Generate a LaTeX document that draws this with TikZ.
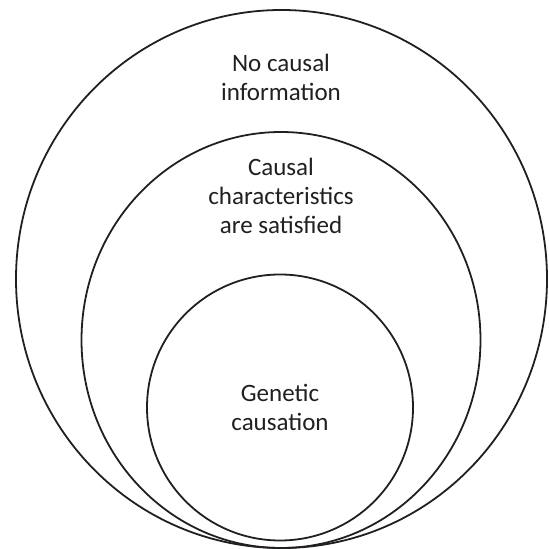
\documentclass[tikz,border=0pt]{standalone}
\usepackage{fontspec}
\setmainfont{Carlito}
\usetikzlibrary{shapes.geometric}
\definecolor{ink}{HTML}{231F20}
\begin{document}
\begin{tikzpicture}[x=1pt,y=1pt,
  ring/.style={ellipse, draw=ink, line width=1.8pt, inner sep=0pt},
  lbl/.style={align=center, text=ink, font=\fontsize{25}{29}\selectfont}]
\useasboundingbox (0,0) rectangle (549,549);
\node[ring, minimum width=531pt, minimum height=538pt] (outer) at (281.5,270) {};
\node[ring, minimum width=399pt, minimum height=416pt] (middle) at (281,209) {};
\node[ring, minimum width=266pt, minimum height=266pt] (inner) at (280,141.5) {};
\node[lbl] (t1) at (281,472) {No causal\\information};
\node[lbl] (t2) at (281,353) {Causal\\characteristics\\are satisfied};
\node[lbl] (t3) at (280,141.5) {Genetic\\causation};
\end{tikzpicture}
\end{document}
